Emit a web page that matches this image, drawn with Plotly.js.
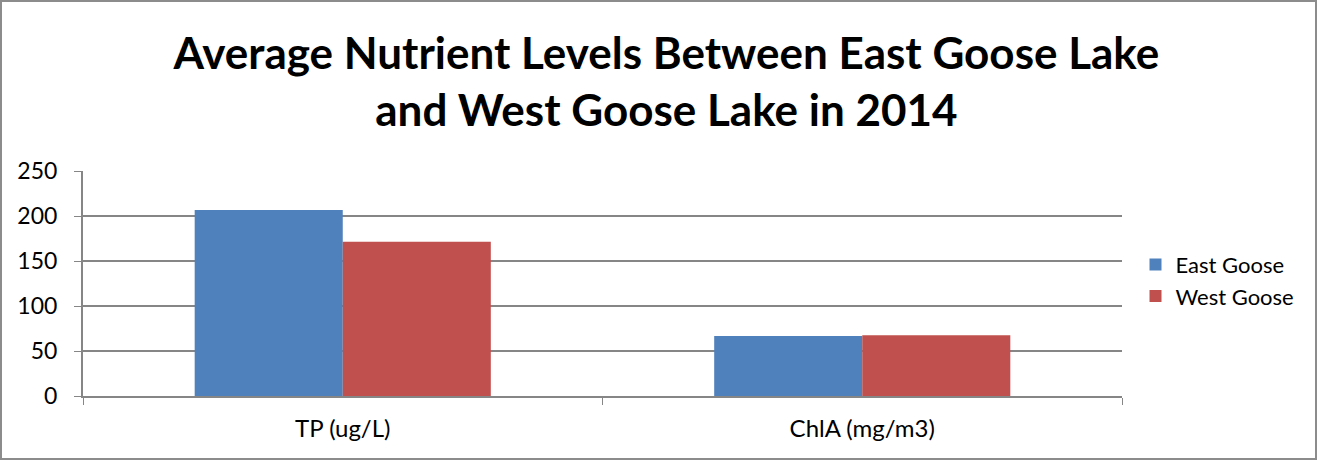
<!DOCTYPE html>
<html>
<head>
<meta charset="utf-8">
<script src="https://cdn.plot.ly/plotly-3.0.1.min.js"></script>
<style>
html,body{margin:0;padding:0;background:#fff;}
#wrap{position:relative;width:1317px;height:460px;}
#chart{width:1317px;height:460px;}
#frame{position:absolute;left:0;top:0;width:1317px;height:460px;box-sizing:border-box;border:2px solid #8c8c8c;pointer-events:none;}
</style>
</head>
<body>
<div id="wrap"><div id="chart"></div><div id="frame"></div></div>
<script>
const categories = ["TP (ug/L)", "ChlA (mg/m3)"];
const eastGoose = [206.7, 66.7];
const westGoose = [171.4, 67.4];
const seriesNames = ["East Goose", "West Goose"];
const titleText = "Average Nutrient Levels Between East Goose Lake<br>and West Goose Lake in 2014";

const font = "Lato, 'Open Sans', sans-serif";
const traces = [
  {type:"bar", name:seriesNames[0], x:categories, y:eastGoose, marker:{color:"#4f81bd"}},
  {type:"bar", name:seriesNames[1], x:categories, y:westGoose, marker:{color:"#c0504d"}}
];
const layout = {
  width:1317, height:460,
  margin:{l:83, r:195, t:171, b:64, pad:0},
  paper_bgcolor:"#fff", plot_bgcolor:"#fff",
  barmode:"group", bargap:0.43, bargroupgap:0,
  showlegend:true,
  legend:{x:1.013, y:0.513, xanchor:"left", yanchor:"middle", font:{family:font, size:22, color:"#000"}, itemwidth:30, tracegroupgap:4},
  title:{text:titleText, x:0.506, xref:"container", xanchor:"center", y:0.85, yref:"container", yanchor:"middle", font:{family:font, size:44, color:"#000", weight:"bold"}},
  xaxis:{type:"category", showgrid:false, showline:true, linecolor:"#868686", linewidth:2,
    ticks:"outside", tickson:"boundaries", ticklen:7, tickcolor:"#868686", tickwidth:1,
    ticklabelstandoff:10,
    tickfont:{family:font, size:24, color:"#000"}},
  yaxis:{range:[0,250], dtick:50, showgrid:true, gridcolor:"#868686", gridwidth:1.5,
    showline:true, linecolor:"#868686", linewidth:2, ticks:"outside", ticklen:7, tickcolor:"#868686",
    ticklabelstandoff:12,
    zeroline:false, tickfont:{family:font, size:23, color:"#000"}}
};
Plotly.newPlot("chart", traces, layout, {displayModeBar:false, staticPlot:true});
</script>
</body>
</html>
